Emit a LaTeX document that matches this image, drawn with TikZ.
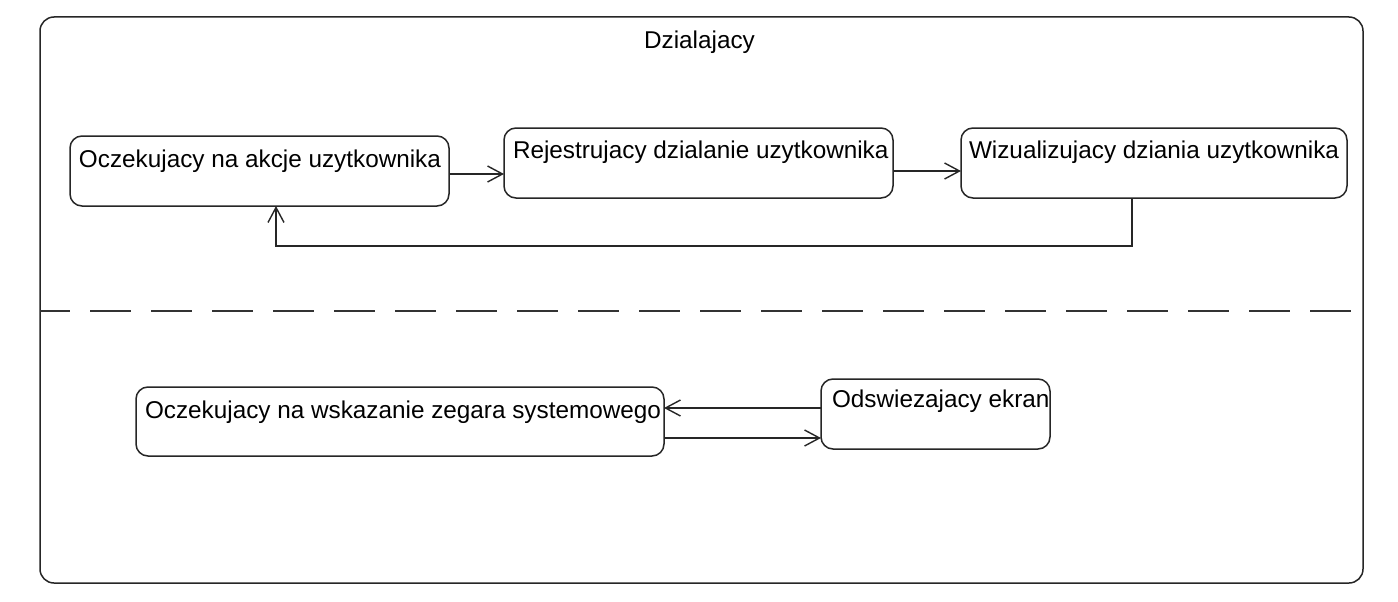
\documentclass[tikz,border=0pt]{standalone}
\usepackage{fontspec}
\setmainfont{Liberation Sans}
\usetikzlibrary{arrows.meta}
\newcommand\stboxtxt[5]{\parbox[c][#2pt][t]{#1pt}{\hspace*{#3pt}\rule{0pt}{#4pt}\mbox{#5}}}
\tikzset{
  frame/.style={draw=black!85, line width=1.5pt, rounded corners=14pt, inner sep=0pt, outer sep=0pt, anchor=north west},
  stbox/.style={draw=black!85, line width=1.5pt, rounded corners=12pt, inner sep=0pt, outer sep=0pt, anchor=north west,
    font=\fontsize{24.3}{28}\selectfont},
  tr/.style={draw=black!85, line width=1.5pt, -{Straight Barb[length=15pt,width=16pt,line width=1.4pt]}},
  divider/.style={draw=black!80, line width=1.5pt, dash pattern=on 41pt off 20pt, dash phase=11pt},
  ttl/.style={font=\fontsize{24.3}{28}\selectfont, anchor=base, inner sep=0pt}
}
\begin{document}
\begin{tikzpicture}[x=1pt,y=-1pt]
\useasboundingbox (0,0) rectangle (1398,602);
\fill[white] (0,0) rectangle (1398,602);
% composite state
\node[frame, minimum width=1323pt, minimum height=566pt] (dz) at (40,17) {};
\node[ttl] (title) at (699.5,49) {Dzialajacy};
\draw[divider] ([yshift=-11pt]dz.west) -- ([yshift=-11pt]dz.east);
% upper region
\node[stbox] (a1) at (70,136) {\stboxtxt{379}{70}{9}{31}{Oczekujacy na akcje uzytkownika}};
\node[stbox] (a2) at (504,128) {\stboxtxt{389}{70}{9}{30}{Rejestrujacy dzialanie uzytkownika}};
\node[stbox] (a3) at (961,128) {\stboxtxt{386}{70}{8}{30}{Wizualizujacy dziania uzytkownika}};
\draw[tr] ([yshift=-3pt]a1.east) -- ([yshift=-3pt]a1.east -| a2.west);
\draw[tr] ([yshift=-8pt]a2.east) -- ([yshift=-8pt]a2.east -| a3.west);
\draw[tr] ([xshift=-22pt]a3.south) -- ++(0,48) -| ([xshift=16.5pt]a1.south);
% lower region
\node[stbox] (b1) at (136,387) {\stboxtxt{528}{69}{9}{31}{Oczekujacy na wskazanie zegara systemowego}};
\node[stbox] (b2) at (821,379) {\stboxtxt{229}{70}{11}{28}{Odswiezajacy ekran}};
\draw[tr] ([yshift=6pt]b2.west) -- ([yshift=6pt]b2.west -| b1.east);
\draw[tr] ([yshift=-16.5pt]b1.east) -- ([yshift=-16.5pt]b1.east -| b2.west);
\end{tikzpicture}
\end{document}
